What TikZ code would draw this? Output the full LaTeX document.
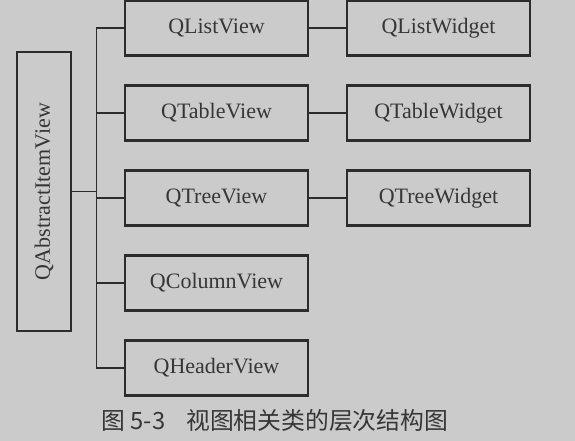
\documentclass[tikz,border=0pt]{standalone}
\usepackage{fontspec}
\setmainfont{Liberation Serif}
\newfontfamily\cjk{Noto Sans CJK SC}
\usetikzlibrary{positioning,calc}
\definecolor{paper}{RGB}{203,203,203}
\definecolor{ink}{RGB}{44,44,44}
\definecolor{inktext}{RGB}{54,54,54}
\tikzset{
    block/.style = {draw=ink, line width=2.2pt, rectangle, text=inktext,
        minimum height=55pt,
        minimum width=183pt, inner sep=0pt,
        font=\fontsize{22}{26}\selectfont},
    rootblock/.style = {block, minimum width=54pt, minimum height=279pt},
    link/.style = {draw=ink, line width=1.3pt}
}
\begin{document}
\begin{tikzpicture}[x=1pt,y=-1pt]
    \fill[paper] (0,0) rectangle (575,441);
    \useasboundingbox (0,0) rectangle (575,441);
    % root class
    \node[rootblock] (root) at (44,191.5) {\rotatebox{90}{QAbstractItemView}};
    % view classes
    \foreach \name/\txt [count=\i] in {list/QListView,table/QTableView,tree/QTreeView,column/QColumnView,header/QHeaderView} {
        \node[block] (\name) at (216.5,28+85*\i-85) {\txt};
        \draw[link] (\name.west) -- ++(-27.5,0);
    }
    % widget classes
    \foreach \name/\txt in {list/QListWidget,table/QTableWidget,tree/QTreeWidget} {
        \node[block] (\name w) at (438.5,0 |- \name) {\txt};
        \draw[link] (\name.east) -- (\name w.west);
    }
    \coordinate (trunk) at ($(list.west)+(-27.5,0)$);
    \draw[link] (trunk) -- ($(header.west)+(-27.5,0)$);
    \draw[link] (root.east) -- (root.east -| trunk);
    % caption
    \node[text=inktext, anchor=west, font=\fontsize{23.8}{26}\selectfont\cjk] (cap) at (98,421)
        {图 5-3\hspace{21pt}视图相关类的层次结构图};
\end{tikzpicture}
\end{document}
